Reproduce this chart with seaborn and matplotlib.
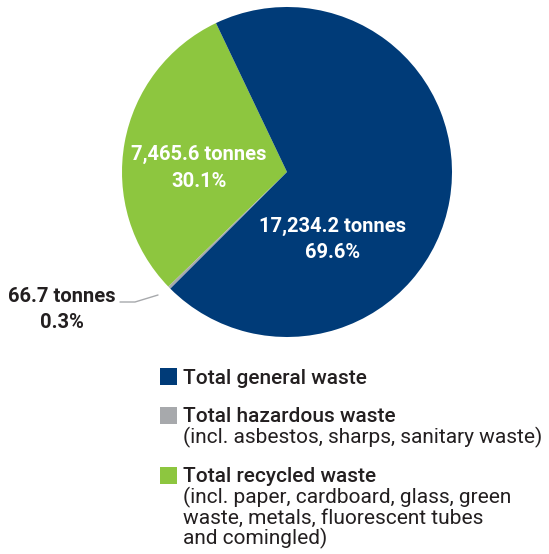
import matplotlib
matplotlib.use("Agg")
import matplotlib.pyplot as plt
from matplotlib.patches import Rectangle
import seaborn as sns

# Waste streams, tonnes and share of total
categories = ["Total recycled waste", "Total hazardous waste", "Total general waste"]
tonnes = [7465.6, 66.7, 17234.2]
shares = ["30.1%", "0.3%", "69.6%"]
colors = ["#8dc63f", "#a7a9ac", "#003b78"]

legend_order = ["Total general waste", "Total hazardous waste", "Total recycled waste"]
legend_notes = {
    "Total general waste": [],
    "Total hazardous waste": ["(incl. asbestos, sharps, sanitary waste)"],
    "Total recycled waste": ["(incl. paper, cardboard, glass, green",
                             "waste, metals, fluorescent tubes",
                             "and comingled)"],
}

sns.set_theme(style="white")
plt.rcParams["font.family"] = ["Roboto", "DejaVu Sans"]

W, H = 549, 554
fig = plt.figure(figsize=(W / 100, H / 100), dpi=100)
ax = fig.add_axes([0, 0, 1, 1])


def py(y):
    return H - y


cx, cy, r = 287, 172, 165
wedges, _ = ax.pie(tonnes, colors=colors, startangle=115.5, counterclock=True,
                   center=(cx, py(cy)), radius=r, frame=True,
                   wedgeprops=dict(linewidth=0))
ax.set_xlim(0, W)
ax.set_ylim(0, H)
ax.set_aspect("equal")
ax.axis("off")

txt = "#231f20"
lab_kw = dict(ha="center", va="baseline", fontsize=14.5, fontweight="bold")

# Inside labels
ax.text(199, py(160), f"{tonnes[0]:,.1f} tonnes", color="white", **lab_kw)
ax.text(199, py(187), shares[0], color="white", **lab_kw)
ax.text(333, py(232), f"{tonnes[2]:,.1f} tonnes", color="white", **lab_kw)
ax.text(333, py(258), shares[2], color="white", **lab_kw)

# Small slice with leader line
ax.text(62, py(302), f"{tonnes[1]:,.1f} tonnes", color=txt, **lab_kw)
ax.text(62, py(328), shares[1], color=txt, **lab_kw)
ax.plot([120, 135, 158], [py(302), py(302), py(295)], color="#a7a9ac", lw=1)

# Legend
sq = 17
item_tops = {"Total general waste": 368, "Total hazardous waste": 407,
             "Total recycled waste": 467}
for name in legend_order:
    col = colors[categories.index(name)]
    top = item_tops[name]
    ax.add_patch(Rectangle((160, py(top + sq)), sq, sq, color=col, lw=0))
    base = top + 15.5
    ax.text(183, py(base), name, color=txt, fontsize=15, ha="left", va="baseline",
            fontweight="medium")
    for i, line in enumerate(legend_notes[name]):
        ax.text(183, py(base + 20.7 * (i + 1)), line, color=txt, fontsize=15,
                ha="left", va="baseline")

fig.savefig("out.png", dpi=100)
